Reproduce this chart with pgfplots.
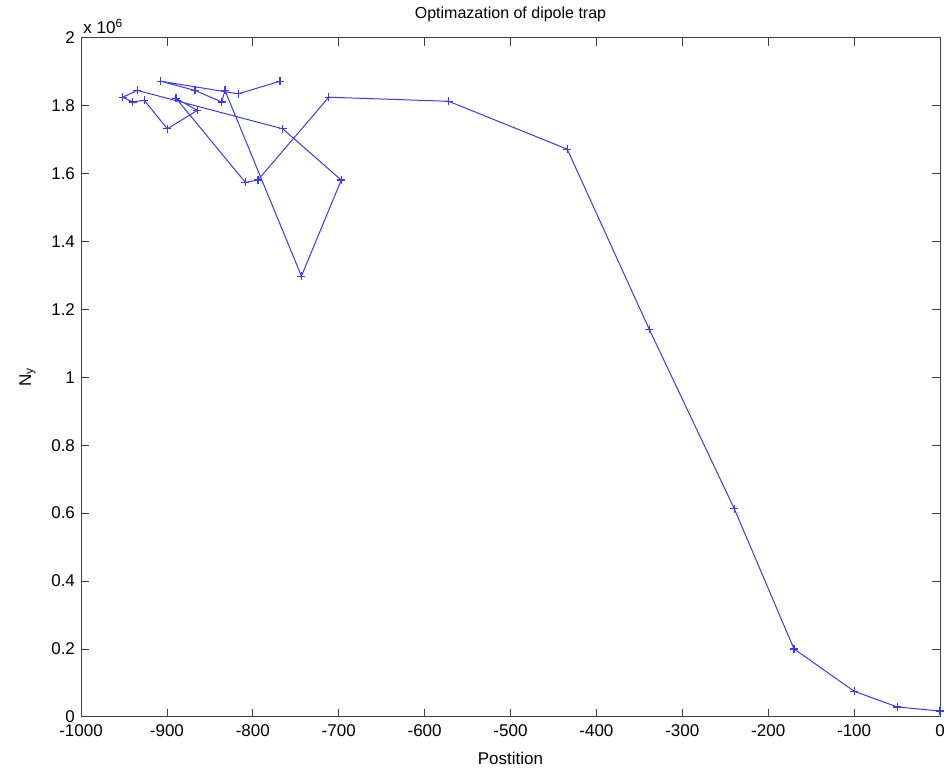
\documentclass[border=0pt]{standalone}
\usepackage{pgfplots}
\pgfplotsset{compat=1.18}
\usepackage{fontspec}
\setmainfont{Liberation Sans}
\definecolor{mblue}{rgb}{0.22,0.22,1}
\begin{document}
\fontsize{8.5}{10}\selectfont
\begin{tikzpicture}
\begin{axis}[
  scale only axis, width=429.5pt, height=339.5pt,
  xmin=-1000, xmax=0, ymin=0, ymax=2,
  xtick={-1000,-900,-800,-700,-600,-500,-400,-300,-200,-100,0},
  ytick={0,0.2,0.4,0.6,0.8,1,1.2,1.4,1.6,1.8,2},
  yticklabels={0,0.2,0.4,0.6,0.8,1,1.2,1.4,1.6,1.8,2},
  tick align=inside, tick pos=both, major tick length=4pt,
  /pgf/number format/assume math mode=true,
  /pgf/number format/1000 sep={},
  ticklabel style={font=\fontsize{8.5}{10}\selectfont},
  xticklabel style={yshift=-1pt},
  axis line style={black!75},
  every tick/.style={black!75},
  title={Optimazation of dipole trap},
  title style={at={(0.5,1)}, anchor=south, yshift=-1pt, font=\fontsize{8}{10}\selectfont},
  xlabel={Postition},
  ylabel={N\textsubscript{y}},
  xlabel style={font=\fontsize{8.5}{10}\selectfont, yshift=-2pt},
  ylabel style={font=\fontsize{8.5}{10}\selectfont, yshift=2pt},
  clip=false,
]
\addplot[color=mblue, line width=0.5pt, mark=+, mark size=2pt, mark options={line width=0.6pt}] coordinates {
(0,0.017) (-49.7,0.029) (-99.8,0.075) (-170,0.2) (-239.5,0.613) (-338.4,1.141)
(-434,1.672) (-572,1.813) (-711.6,1.825) (-794,1.581) (-808.6,1.574)
(-889.4,1.822) (-864.6,1.786) (-899.5,1.732) (-926.3,1.816) (-939.8,1.811)
(-951.5,1.825) (-934.4,1.845) (-765.2,1.732) (-697,1.581) (-743.4,1.298)
(-832.4,1.845) (-836.2,1.811) (-867.3,1.845) (-907.2,1.872) (-816.9,1.835)
(-768.3,1.872)
};
\node[anchor=south west, inner sep=0pt, font=\fontsize{8.5}{10}\selectfont] at (rel axis cs:0,1) [yshift=2pt, xshift=1pt] {x 10\textsuperscript{6}};
\end{axis}
\pgfresetboundingbox
\path ([shift={(-40.5pt,-27.7pt)}]current axis.south west) rectangle ([shift={(3pt,18.9pt)}]current axis.north east);
\end{tikzpicture}
\end{document}
